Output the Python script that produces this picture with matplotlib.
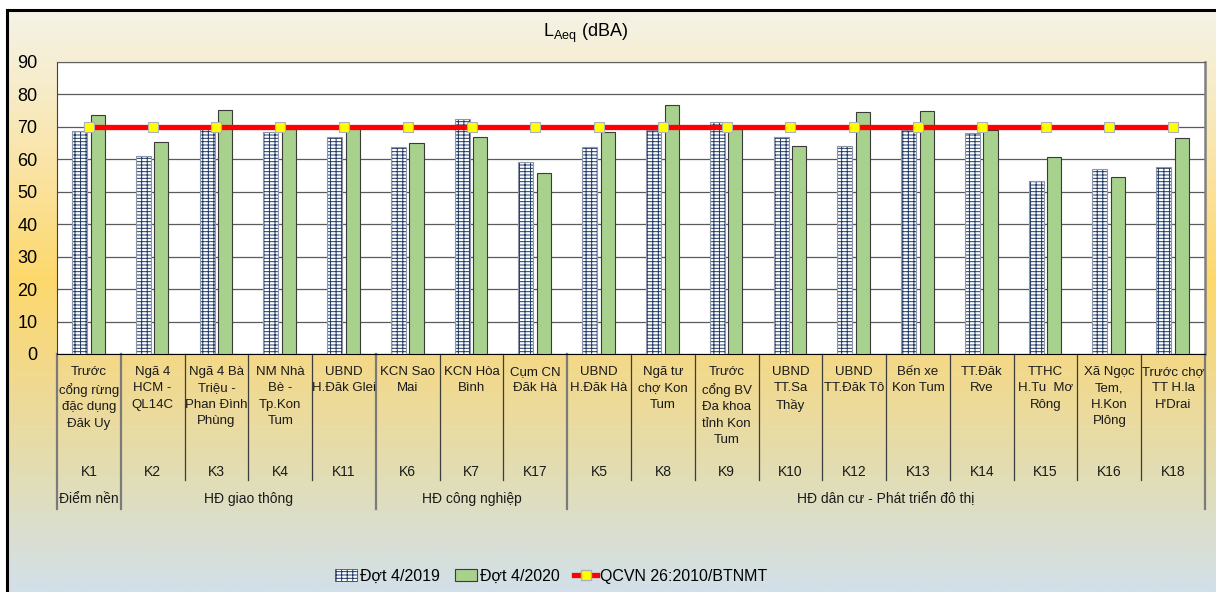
import numpy as np
import matplotlib
matplotlib.use("Agg")
import matplotlib.pyplot as plt
from matplotlib import font_manager
from matplotlib.colors import LinearSegmentedColormap
from matplotlib.patches import Patch
from matplotlib.lines import Line2D


# dữ liệu
codes = ["K1", "K2", "K3", "K4", "K11", "K6", "K7", "K17", "K5",
         "K8", "K9", "K10", "K12", "K13", "K14", "K15", "K16", "K18"]
names = ["Trước\ncổng rừng\nđặc dụng\nĐăk Uy", "Ngã 4\nHCM -\nQL14C",
         "Ngã 4 Bà\nTriệu -\nPhan Đình\nPhùng", "NM Nhà\nBè -\nTp.Kon\nTum",
         "UBND\nH.Đăk Glei", "KCN Sao\nMai", "KCN Hòa\nBình", "Cụm CN\nĐăk Hà",
         "UBND\nH.Đăk Hà", "Ngã tư\nchợ Kon\nTum",
         "Trước\ncổng BV\nĐa khoa\ntỉnh Kon\nTum", "UBND\nTT.Sa\nThầy",
         "UBND\nTT.Đăk Tô", "Bến xe\nKon Tum", "TT.Đăk\nRve",
         "TTHC\nH.Tu  Mơ\nRông", "Xã Ngọc\nTem,\nH.Kon\nPlông",
         "Trước chợ\nTT H.la\nH'Drai"]
group_names = ["Điểm nền", "HĐ giao thông", "HĐ công nghiệp",
               "HĐ dân cư - Phát triển đô thị"]
group_sizes = [1, 4, 3, 10]

dot_2019 = [68.7, 61.1, 69.6, 68.4, 67.0, 63.7, 72.3, 59.3, 63.7,
            69.1, 71.4, 67.0, 64.0, 69.1, 68.1, 53.4, 56.9, 57.6]
dot_2020 = [73.7, 65.2, 75.2, 69.5, 70.0, 64.9, 67.0, 55.7, 68.3,
            76.7, 69.3, 64.2, 74.5, 74.9, 69.0, 60.7, 54.5, 66.6]
qcvn = [70, 70, 70, 70, 70, 70, 70, 70, 70,
        70, 70, 70, 70, 70, 70, 70, 70, 70]


plt.rcParams['font.family'] = ['Liberation Sans', 'DejaVu Sans']
plt.rcParams['hatch.linewidth'] = 0.7
installed = {f.name for f in font_manager.fontManager.ttflist}
if 'Liberation Sans Narrow' in installed:
    cat_font = ['Liberation Sans Narrow', 'DejaVu Sans']
    cat_size = 10.5
else:
    cat_font = ['Liberation Sans', 'DejaVu Sans']
    cat_size = 9.5

W, H = 1216, 592
fig = plt.figure(figsize=(W / 100, H / 100), dpi=100)
fig.patch.set_facecolor('white')

# nền gradient
bg = fig.add_axes([7 / W, 0, 1 - 7 / W, (H - 10) / H])
bg_cmap = LinearSegmentedColormap.from_list("bg", [
    (0.0, "#f5f2e6"), (0.12, "#f7edcc"), (0.30, "#fbe29c"),
    (0.46, "#fdd86c"), (0.62, "#f2d98c"), (0.80, "#e2ddb4"),
    (1.0, "#d2e0e9")])
bg.imshow(np.linspace(0, 1, 300).reshape(-1, 1), aspect='auto', cmap=bg_cmap,
          extent=[0, 1, 0, 1], origin='upper')
bg.set_xticks([])
bg.set_yticks([])
for s in ['right', 'bottom']:
    bg.spines[s].set_visible(False)
for s in ['left', 'top']:
    bg.spines[s].set_linewidth(2.2)
    bg.spines[s].set_color('black')

ax = fig.add_axes([57 / W, 1 - 354 / H, (1205 - 57) / W, (354 - 62) / H])
ax.set_facecolor('white')
x = np.arange(len(codes))

ax.bar(x - 0.147, dot_2019, width=0.235, color='white', edgecolor='#1f3864',
       hatch='-----|||', linewidth=0, zorder=3)
ax.bar(x - 0.147, dot_2019, width=0.235, fill=False, edgecolor='#8c96a8',
       linewidth=0.8, zorder=3)
ax.bar(x + 0.137, dot_2020, width=0.22, color='#a9d18e', edgecolor='#3a3a3a',
       linewidth=0.8, zorder=3)
ax.plot(x, qcvn, color='#ff0000', linewidth=3.8, marker='s', markersize=7.5,
        markerfacecolor='#ffff00', markeredgecolor='#b0b0b0',
        markeredgewidth=0.8, zorder=4)

ax.set_xlim(-0.5, len(codes) - 0.5)
ax.set_ylim(0, 90)
ax.set_yticks(range(0, 91, 10))
ax.set_xticks([])
ax.tick_params(axis='y', length=0, pad=14, labelsize=13)
ax.yaxis.grid(True, color='#5a5a5a', linewidth=0.9)
ax.set_axisbelow(True)
ax.spines['top'].set_color('#606060')
ax.spines['right'].set_color('#808080')
ax.spines['right'].set_linewidth(1.8)
ax.spines['left'].set_color('#404040')
ax.spines['bottom'].set_color('black')

# bảng nhãn bên dưới
tr = ax.get_xaxis_transform()
def fy(p):
    return (354 - p) / 292

for i in range(len(codes)):
    ax.text(i, fy(366), names[i], transform=tr, ha='center', va='top',
            fontsize=cat_size, family=cat_font, linespacing=1.48, color='#1a1a1a')
    ax.text(i, fy(472), codes[i], transform=tr, ha='center', va='center',
            fontsize=cat_size + 0.5, family=cat_font, color='#1a1a1a')

bounds = np.cumsum([0] + group_sizes) - 0.5
for i in range(len(codes) + 1):
    xb = i - 0.5
    if xb in bounds:
        ax.plot([xb, xb], [0, fy(509)], transform=tr, color='#7a7a7a',
                linewidth=1.6, clip_on=False)
    else:
        ax.plot([xb, xb], [0, fy(480)], transform=tr, color='#3c3c3c',
                linewidth=0.9, clip_on=False)

for g in range(len(group_names)):
    xc = (bounds[g] + bounds[g + 1]) / 2
    ax.text(xc, fy(499), group_names[g], transform=tr, ha='center',
            va='center', fontsize=cat_size + 0.5, family=cat_font,
            color='#1a1a1a')

fig.text(586 / W, 1 - 33 / H, r'L$_{\mathregular{Aeq}}$ (dBA)', ha='center',
         va='center', fontsize=13)

handles = [Patch(facecolor='white', edgecolor='#1f3864', hatch='-----|||',
                 linewidth=0.5),
           Patch(facecolor='#a9d18e', edgecolor='#3a3a3a', linewidth=0.8),
           Line2D([], [], color='#ff0000', linewidth=3.8, marker='s',
                  markersize=7.5, markerfacecolor='#ffff00',
                  markeredgecolor='#b0b0b0')]
fig.legend(handles, ['Đợt 4/2019', 'Đợt 4/2020', 'QCVN 26:2010/BTNMT'],
           loc='center', bbox_to_anchor=(551 / W, 1 - 576 / H), ncol=3,
           frameon=False, fontsize=11.5, handlelength=1.4, handletextpad=0.2,
           columnspacing=0.9)

fig.savefig('out.png', dpi=100)
